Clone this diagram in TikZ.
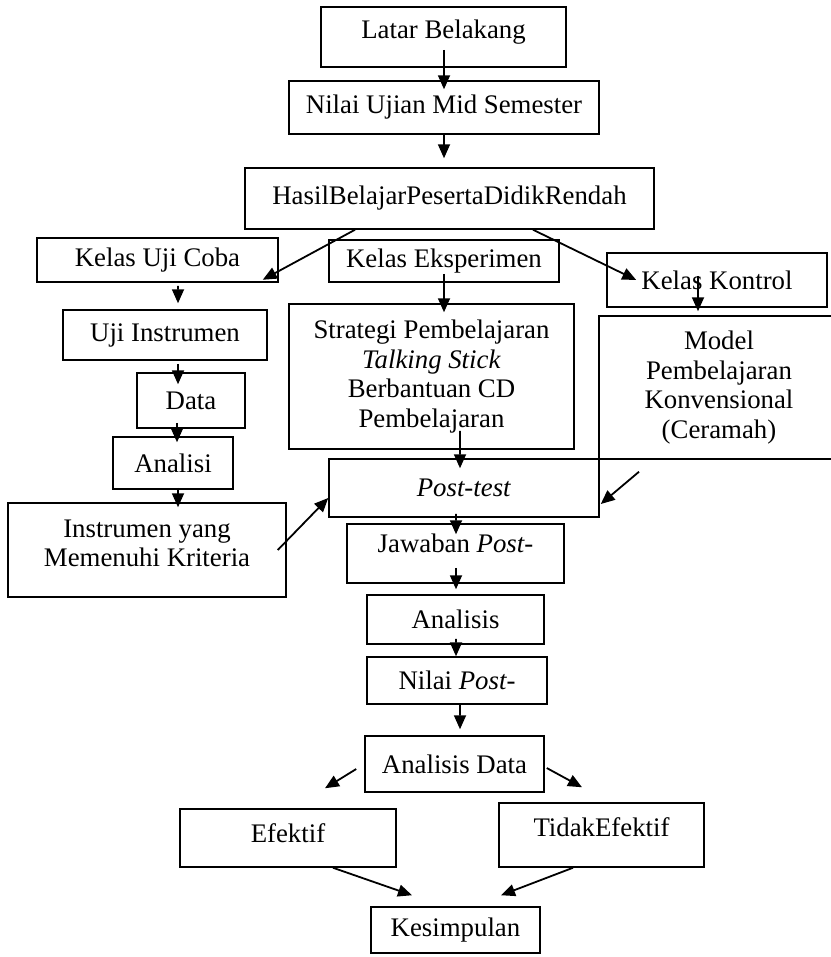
\documentclass[tikz,border=0pt]{standalone}
\usepackage{fontspec}
\setmainfont{Liberation Serif}
\usetikzlibrary{arrows.meta,calc}
\begin{document}
\begin{tikzpicture}[x=1bp,y=-1bp,
  box/.style={draw, line width=1.5bp, inner sep=0pt, align=center,
    font=\fontsize{26.8bp}{29.5bp}\selectfont},
  arr/.style={line width=1.8bp, -{Triangle[length=14bp,width=12bp]}}]
\useasboundingbox (0,0) rectangle (831,957);

% boxes
\node[box,minimum width=245bp,minimum height=60bp,text depth=16bp] (latar) at (443.5,37) {Latar Belakang};
\node[box,minimum width=310bp,minimum height=53bp] (nilai) at (444,107.5) {Nilai Ujian Mid Semester};
\node[box,minimum width=409bp,minimum height=61bp] (hasil) at (449.5,198.5) {HasilBelajarPesertaDidikRendah};
\node[box,minimum width=241bp,minimum height=44bp] (kuc) at (157.5,260) {Kelas Uji Coba};
\node[box,minimum width=230bp,minimum height=42bp] (ke) at (444,261) {Kelas Eksperimen};
\node[box,minimum width=220bp,minimum height=54bp] (kk) at (717,280) {Kelas Kontrol};
\node[box,minimum width=204bp,minimum height=50bp] (ui) at (165,335) {Uji Instrumen};
\node[box,minimum width=108bp,minimum height=55bp] (data) at (191,400.5) {Data};
\node[box,minimum width=120bp,minimum height=52bp] (analisi) at (173,463) {Analisi};
\node[box,minimum width=278bp,minimum height=94bp,text depth=14bp] (instr) at (147,550) {Instrumen yang\\Memenuhi Kriteria};
\node[box,minimum width=285bp,minimum height=145bp] (strat) at (431.5,376.5) {Strategi Pembelajaran\\\textit{Talking Stick}\\Berbantuan CD\\Pembelajaran};
\node[box,minimum width=240bp,minimum height=143bp] (model) at (719,387.5) {Model\\Pembelajaran\\Konvensional\\(Ceramah)};
\node[box,minimum width=270bp,minimum height=58bp] (post) at (464,488) {\textit{Post-test}};
\node[box,minimum width=217bp,minimum height=59bp,text depth=20bp] (jaw) at (455.5,553.5) {Jawaban \textit{Post-}};
\node[box,minimum width=177bp,minimum height=49bp] (anal) at (455.5,619.5) {Analisis};
\node[box,minimum width=180bp,minimum height=47bp] (np) at (457,680.5) {Nilai \textit{Post-}};
\node[box,minimum width=179bp,minimum height=56bp] (ad) at (454.5,764) {Analisis Data};
\node[box,minimum width=216bp,minimum height=58bp,text depth=10bp] (ef) at (288,838) {Efektif};
\node[box,minimum width=205bp,minimum height=64bp,text depth=16bp] (te) at (601.5,835) {TidakEfektif};
\node[box,minimum width=169bp,minimum height=46bp] (kes) at (455.5,930) {Kesimpulan};

% arrows
\draw[arr] ($(latar.south)+(0.5,-18)$) -- ($(nilai.north)+(0,9)$);
\draw[arr] (nilai.south) -- ($(hasil.north)+(-5.5,-9)$);
\draw[arr] ($(hasil.south)+(-94.5,0)$) -- ($(kuc.south east)+(-16,-3)$);
\draw[arr] ($(hasil.south)+(83.5,0)$) -- ($(kk.west)+(30,0)$);
\draw[arr] ($(ke.south)+(0,-9)$) -- ($(strat.north)+(12.5,9)$);
\draw[arr] ($(kk.south)+(-19,-32)$) -- ($(model.north)+(-21,-4)$);
\draw[arr] ($(kuc.south)+(20.5,3)$) -- ($(ui.north)+(13,-6)$);
\draw[arr] ($(ui.south)+(13,3)$) -- ($(data.north)+(-13,12)$);
\draw[arr] ($(data.south)+(-14,-6)$) -- ($(analisi.north)+(4,6)$);
\draw[arr] ($(analisi.south)+(5,-2)$) -- ($(instr.north)+(31,5)$);
\draw[arr] ($(instr.east)+(-9,0)$) -- ($(post.west)+(0,10)$);
\draw[arr] ($(strat.south)+(28.5,-19)$) -- ($(post.north)+(-4,10)$);
\draw[arr] ($(model.south)+(-80,12)$) -- ($(post.east)+(1,16)$);
\draw[arr] ($(post.south)+(-8,-4)$) -- ($(jaw.north)+(0.5,11)$);
\draw[arr] ($(jaw.south)+(0.5,-16)$) -- ($(anal.north)+(0.5,-5)$);
\draw[arr] ($(anal.south)+(0.5,-6)$) -- ($(np.north)+(-1,0)$);
\draw[arr] ($(np.south)+(3,0)$) -- ($(ad.north)+(5.5,-6)$);
\draw[arr] ($(ad.west)+(-8,5)$) -- ($(ef.north)+(37,-20)$);
\draw[arr] ($(ad.east)+(2,4)$) -- ($(te.north)+(-19.5,-15)$);
\draw[arr] ($(ef.south)+(45,0)$) -- ($(kes.north)+(-43.5,-11)$);
\draw[arr] ($(te.south)+(-28.5,0)$) -- ($(kes.north)+(45.5,-11)$);
\end{tikzpicture}
\end{document}
